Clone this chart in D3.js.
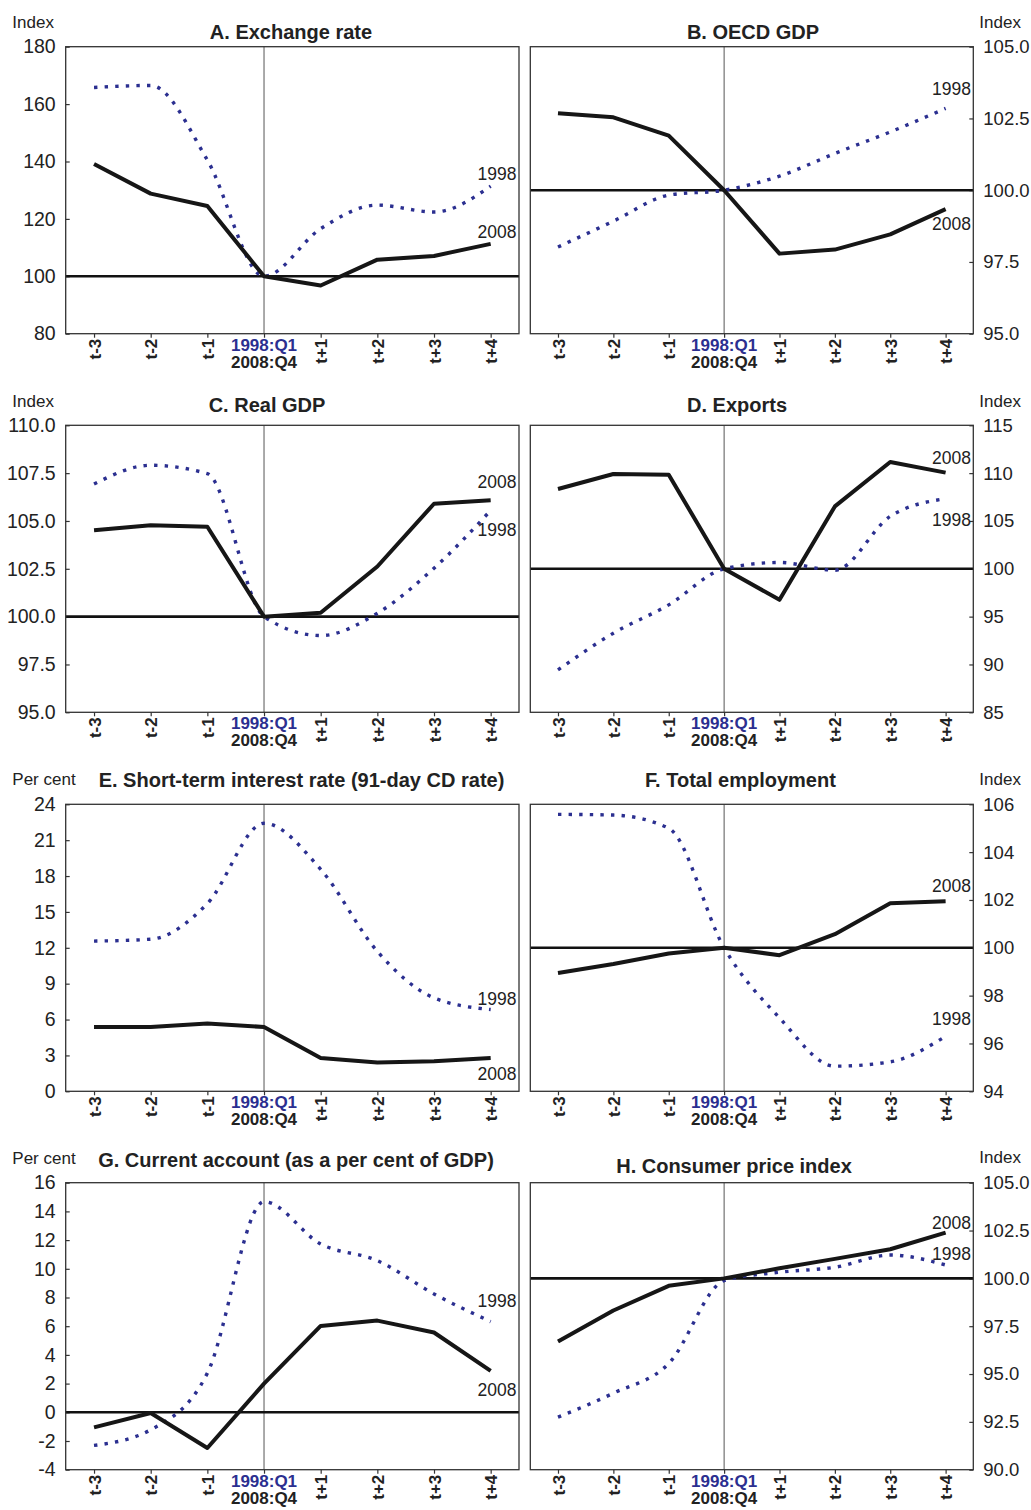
<!DOCTYPE html>
<html>
<head>
<meta charset="utf-8">
<title>1998 vs 2008</title>
<script src="https://d3js.org/d3.v7.min.js"></script>
<style>
    body { margin: 0; background: #fff; }
    svg { display: block; font-family: "Liberation Sans", Arial, Helvetica, sans-serif; }
    .frame { fill: none; stroke: #333; stroke-width: 1.3px; }
    .axis path { display: none; }
    .axis line { stroke: #333; stroke-width: 1.2px; }
</style>
</head>
<body>
<svg id="chart" width="1031" height="1510"></svg>
<script>
// quarters around the crisis point
const periods = ["t-3", "t-2", "t-1", "t", "t+1", "t+2", "t+3", "t+4"]

// A. Exchange rate
const exchange1998 = [165.8, 166.5, 140.5, 100, 116.6, 124.8, 122.4, 131.4]
const exchange2008 = [139.1, 128.8, 124.5, 100, 96.8, 105.8, 107.1, 111.3]
// B. OECD GDP
const oecd1998 = [98.02, 98.92, 99.83, 100, 100.49, 101.28, 102.03, 102.85]
const oecd2008 = [102.68, 102.54, 101.9, 100, 97.79, 97.93, 98.46, 99.34]
// C. Real GDP
const gdp1998 = [106.93, 107.91, 107.47, 100, 99.01, 100.18, 102.53, 105.55]
const gdp2008 = [104.52, 104.78, 104.7, 100, 100.2, 102.62, 105.9, 106.08]
// D. Exports
const exports1998 = [89.43, 93.27, 96.23, 100, 100.66, 99.85, 105.48, 107.33]
const exports2008 = [108.34, 109.91, 109.84, 100, 96.76, 106.52, 111.16, 110.05]
// E. Short-term interest rate
const rate1998 = [12.56, 12.72, 15.7, 22.41, 18.56, 11.7, 7.81, 6.84]
const rate2008 = [5.38, 5.38, 5.66, 5.38, 2.79, 2.4, 2.51, 2.79]
// F. Total employment
const employment1998 = [105.58, 105.55, 105.0, 100, 97.07, 95.05, 95.23, 96.3]
const employment2008 = [98.95, 99.32, 99.76, 100, 99.69, 100.57, 101.86, 101.95]
// G. Current account
const current1998 = [-2.31, -1.22, 2.73, 14.68, 11.73, 10.57, 8.25, 6.32]
const current2008 = [-1.05, -0.05, -2.49, 2.0, 6.02, 6.39, 5.56, 2.89]
// H. Consumer price index
const cpi1998 = [92.75, 94.0, 95.55, 99.88, 100.32, 100.58, 101.22, 100.7]
const cpi2008 = [96.7, 98.32, 99.61, 100, 100.53, 101.02, 101.52, 102.39]

const seriesNames = ["1998", "2008"]
const centreLabels = ["1998:Q1", "2008:Q4"]

// panel setup: y range, ticks, layout
const panels = [
    { title: "A. Exchange rate", unit: "Index", side: "left", row: 0, domain: [80, 180], step: 20, fmt: "d", ref: 100,
      a: exchange1998, b: exchange2008, titleX: 291, titleDy: -7.5, unitDy: -18.5, lab98: 133.5, lab08: 113.5 },
    { title: "B. OECD GDP", unit: "Index", side: "right", row: 0, domain: [95, 105], step: 2.5, fmt: ".1f", ref: 100,
      a: oecd1998, b: oecd2008, titleX: 753, titleDy: -7.5, unitDy: -18.5, lab98: 103.31, lab08: 98.63 },
    { title: "C. Real GDP", unit: "Index", side: "left", row: 1, domain: [95, 110], step: 2.5, fmt: ".1f", ref: 100,
      a: gdp1998, b: gdp2008, titleX: 267, titleDy: -13, unitDy: -18.5, lab98: 104.24, lab08: 106.74 },
    { title: "D. Exports", unit: "Index", side: "right", row: 1, domain: [85, 115], step: 5, fmt: "d", ref: 100,
      a: exports1998, b: exports2008, titleX: 737, titleDy: -13, unitDy: -18.5, lab98: 104.52, lab08: 111.0 },
    { title: "E. Short-term interest rate (91-day CD rate)", unit: "Per cent", side: "left", row: 2, domain: [0, 24], step: 3, fmt: "d", ref: null,
      a: rate1998, b: rate2008, titleX: 301.5, titleDy: -17.6, unitDy: -19.3, lab98: 7.19, lab08: 0.97 },
    { title: "F. Total employment", unit: "Index", side: "right", row: 2, domain: [94, 106], step: 2, fmt: "d", ref: 100,
      a: employment1998, b: employment2008, titleX: 740.5, titleDy: -17.6, unitDy: -19.3, lab98: 96.79, lab08: 102.34 },
    { title: "G. Current account (as a per cent of GDP)", unit: "Per cent", side: "left", row: 3, domain: [-4, 16], step: 2, fmt: "d", ref: 0,
      a: current1998, b: current2008, titleX: 296, titleDy: -15.4, unitDy: -18.7, lab98: 7.37, lab08: 1.11 },
    { title: "H. Consumer price index", unit: "Index", side: "right", row: 3, domain: [90, 105], step: 2.5, fmt: ".1f", ref: 100,
      a: cpi1998, b: cpi2008, titleX: 734, titleDy: -9.4, unitDy: -19.4, lab98: 100.96, lab08: 102.57 }
]

const rowTops = [46.7, 425.3, 804.3, 1182.7]
const plotH = 287
const cols = { left: [65.7, 519], right: [530.3, 973.3] }
const blue = "#2b2f90"

const svg = d3.select("#chart")

panels.forEach(p => {
    let x0 = cols[p.side][0], x1 = cols[p.side][1]
    let top = rowTops[p.row], bottom = top + plotH

    let x = d3.scalePoint().domain(periods).range([x0, x1]).padding(0.5)
    let y = d3.scaleLinear().domain(p.domain).range([bottom, top])
    let ticks = d3.range(p.domain[0], p.domain[1] + p.step / 2, p.step)
    // plain hyphen for negatives, like the original
    let fmt = d => d3.format(p.fmt)(d).replace("\u2212", "-")

    let g = svg.append("g")

    // y axis, ticks pointing inward
    let yAxis = p.side === "left"
        ? d3.axisLeft(y).tickValues(ticks).tickFormat(fmt).tickSize(-4).tickPadding(10)
        : d3.axisRight(y).tickValues(ticks).tickFormat(fmt).tickSize(-4).tickPadding(10)
    g.append("g").attr("class", "axis")
        .attr("transform", `translate(${p.side === "left" ? x0 : x1},0)`)
        .call(yAxis)
        .call(s => s.selectAll("text").style("font-size", p.side === "left" ? "19.5px" : "18.5px").attr("fill", "#222"))

    // x axis with rotated labels
    g.append("g").attr("class", "axis")
        .attr("transform", `translate(0,${bottom})`)
        .call(d3.axisBottom(x).tickSize(4).tickFormat(d => d === "t" ? "" : d))
        .call(s => s.selectAll("text")
            .attr("transform", "rotate(-90)")
            .attr("text-anchor", "end")
            .attr("x", -5).attr("y", 0).attr("dy", "0.36em")
            .style("font-size", "17px").style("font-weight", "bold").attr("fill", "#222"))

    g.selectAll("text.centre").data(centreLabels).enter().append("text")
        .attr("class", "centre")
        .attr("x", x("t")).attr("y", (d, i) => bottom + 17 + i * 17)
        .attr("text-anchor", "middle")
        .style("font-size", "17px").style("font-weight", "bold")
        .attr("fill", (d, i) => i === 0 ? blue : "#222")
        .text(d => d)

    // vertical line at t
    g.append("line")
        .attr("x1", x("t")).attr("x2", x("t"))
        .attr("y1", top).attr("y2", bottom)
        .attr("stroke", "#555").attr("stroke-width", 1)

    // reference line
    if (p.ref !== null) {
        g.append("line")
            .attr("x1", x0).attr("x2", x1)
            .attr("y1", y(p.ref)).attr("y2", y(p.ref))
            .attr("stroke", "#111").attr("stroke-width", 2.6)
    }

    // 1998 dotted, smoothed
    let smooth = d3.line().x((d, i) => x(periods[i])).y(d => y(d)).curve(d3.curveMonotoneX)
    let straight = d3.line().x((d, i) => x(periods[i])).y(d => y(d))

    g.append("path").datum(p.a)
        .attr("d", smooth)
        .attr("fill", "none").attr("stroke", blue)
        .attr("stroke-width", 3.4).attr("stroke-dasharray", "3.4 7.2")

    g.append("path").datum(p.b)
        .attr("d", straight)
        .attr("fill", "none").attr("stroke", "#161616")
        .attr("stroke-width", 4).attr("stroke-linejoin", "round")

    // frame
    g.append("rect").attr("class", "frame")
        .attr("x", x0).attr("y", top).attr("width", x1 - x0).attr("height", plotH)

    // series labels
    let labX = p.side === "left" ? 516.5 : 971
    g.selectAll("text.series").data(seriesNames).enter().append("text")
        .attr("class", "series")
        .attr("x", labX).attr("y", (d, i) => y(i === 0 ? p.lab98 : p.lab08))
        .attr("text-anchor", "end")
        .style("font-size", "17.5px").attr("fill", "#222")
        .text(d => d)

    // title and unit
    g.append("text")
        .attr("x", p.titleX).attr("y", top + p.titleDy)
        .attr("text-anchor", "middle")
        .style("font-size", "20px").style("font-weight", "bold").attr("fill", "#222")
        .text(p.title)

    g.append("text")
        .attr("x", p.side === "left" ? 12.3 : 979.3).attr("y", top + p.unitDy)
        .style("font-size", "17px").attr("fill", "#222")
        .text(p.unit)
})
</script>
</body>
</html>
